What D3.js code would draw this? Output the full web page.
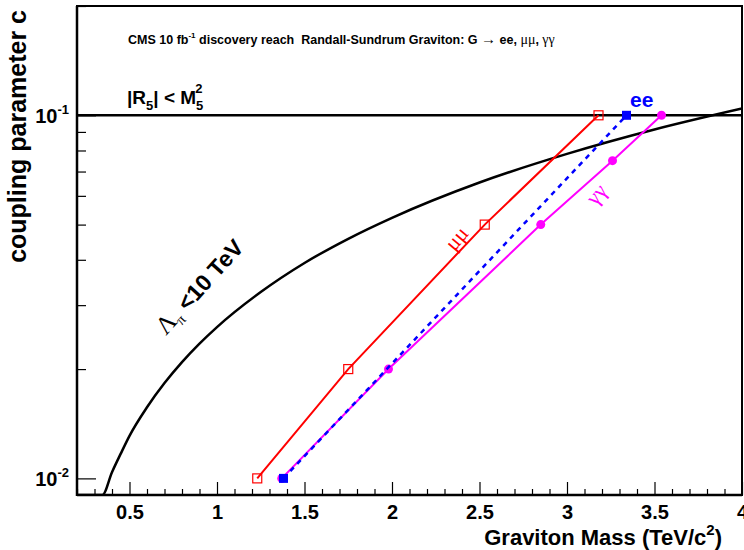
<!DOCTYPE html>
<html>
<head>
<meta charset="utf-8">
<script src="https://cdn.jsdelivr.net/npm/d3@7"></script>
<style>
  html, body { margin: 0; padding: 0; background: #fff; }
  text { font-family: "Liberation Sans", Arial, Helvetica, sans-serif; }
  .serif { font-family: "Liberation Serif", "Times New Roman", serif; }
</style>
</head>
<body>
<script>
// ---------- data ----------
const xMajorTicks = [0.5, 1, 1.5, 2, 2.5, 3, 3.5, 4];
const xMinorTicks = [0.2,0.3,0.4,0.6,0.7,0.8,0.9,1.1,1.2,1.3,1.4,1.6,1.7,1.8,1.9,2.1,2.2,2.3,2.4,2.6,2.7,2.8,2.9,3.1,3.2,3.3,3.4,3.6,3.7,3.8,3.9];
const xTickLabels = ["0.5", "1", "1.5", "2", "2.5", "3", "3.5", "4"];
const yMajorTicks = [0.01, 0.1];
const yMinorTicks = [0.02,0.03,0.04,0.05,0.06,0.07,0.08,0.09,0.2];
const yTickExponents = ["-2", "-1"];

// Lambda_pi < 10 TeV boundary
const lambdaMass = [0.2, 0.3, 0.345, 0.4, 0.45, 0.5, 0.6, 0.7, 0.8, 0.9, 1.0, 1.25, 1.5, 1.75, 2.0, 2.5, 3.0, 3.5, 4.0];
const lambdaC    = [0.0052, 0.0078, 0.009, 0.0104, 0.0117, 0.0131, 0.0157, 0.0183, 0.0209, 0.0235, 0.0261, 0.0326, 0.0392, 0.0457, 0.0522, 0.0653, 0.0783, 0.0914, 0.1044];

// |R5| < M5^2 bound
const r5Bound = 0.1;

// mu mu
const mumuMass = [1.23, 1.75, 2.53, 3.18];
const mumuC    = [0.01, 0.02, 0.05, 0.1];
// e e
const eeMass = [1.38, 3.34];
const eeC    = [0.01, 0.1];
// gamma gamma
const ggMass = [1.37, 1.98, 2.85, 3.26, 3.54];
const ggC    = [0.01, 0.02, 0.05, 0.075, 0.1];

// ---------- layout ----------
const W = 744, H = 550;
const L = 77, R = 742, T = 6, B = 495;

const svg = d3.select("body").append("svg").attr("width", W).attr("height", H);
svg.append("rect").attr("width", W).attr("height", H).attr("fill", "#fff");

const x = d3.scaleLinear().domain([0.2, 4.0]).range([L, R]);
const y = d3.scaleLog().domain([0.009, 0.2]).range([B, T]).clamp(true);

svg.append("clipPath").attr("id", "clip").append("rect")
  .attr("x", L).attr("y", T).attr("width", R - L).attr("height", B - T);

const plot = svg.append("g").attr("clip-path", "url(#clip)");

// axes: ticks drawn inside the frame via d3 axes
const xAxisMinor = d3.axisBottom(x).tickValues(xMinorTicks).tickSize(-6).tickFormat("");
const xAxisMajor = d3.axisBottom(x).tickValues(xMajorTicks).tickSize(-13).tickFormat((d, i) => xTickLabels[i]);
const gxm = svg.append("g").attr("transform", `translate(0,${B})`).call(xAxisMinor);
const gx = svg.append("g").attr("transform", `translate(0,${B})`).call(xAxisMajor);
[gxm, gx].forEach(g => { g.select(".domain").remove(); g.selectAll("line").attr("stroke", "#000").attr("stroke-width", 1.2); });
gx.selectAll("text").attr("fill", "#000").attr("font-size", 20).attr("font-weight", "bold").attr("dy", "0.71em").attr("y", 10);

const yAxisMinor = d3.axisLeft(y).tickValues(yMinorTicks).tickSize(-9).tickFormat("");
const yAxisMajor = d3.axisLeft(y).tickValues(yMajorTicks).tickSize(-19).tickFormat("");
const gym = svg.append("g").attr("transform", `translate(${L},0)`).call(yAxisMinor);
const gy = svg.append("g").attr("transform", `translate(${L},0)`).call(yAxisMajor);
[gym, gy].forEach(g => { g.select(".domain").remove(); g.selectAll("line").attr("stroke", "#000").attr("stroke-width", 1.2); });

// y tick labels 10^-2, 10^-1
yMajorTicks.forEach((v, i) => {
  const t = svg.append("text").attr("x", 69).attr("y", y(v) + 8)
    .attr("text-anchor", "end").attr("font-size", 20).attr("font-weight", "bold");
  t.append("tspan").text("10");
  t.append("tspan").attr("font-size", 13).attr("dy", -9).text(yTickExponents[i]);
});

// frame
svg.append("rect").attr("x", L).attr("y", T).attr("width", R - L).attr("height", B - T)
  .attr("fill", "none").attr("stroke", "#000").attr("stroke-width", 2);
svg.append("line").attr("x1", L).attr("x2", L).attr("y1", T).attr("y2", B + 1).attr("stroke", "#000").attr("stroke-width", 2.5);
svg.append("line").attr("x1", L).attr("x2", R).attr("y1", B).attr("y2", B).attr("stroke", "#000").attr("stroke-width", 2.5);

// |R5| < M5^2 horizontal line
plot.append("line").attr("x1", x(0.2)).attr("x2", x(4.0)).attr("y1", y(r5Bound)).attr("y2", y(r5Bound))
  .attr("stroke", "#000").attr("stroke-width", 2.5);

// Lambda curve
const lambdaPts = lambdaMass.map((m, i) => [m, lambdaC[i]]);
plot.append("path").datum(lambdaPts)
  .attr("d", d3.line().x(d => x(d[0])).y(d => y(d[1])).curve(d3.curveMonotoneX))
  .attr("fill", "none").attr("stroke", "#000").attr("stroke-width", 2.5);

const line = d3.line().x(d => x(d[0])).y(d => y(d[1]));

// gamma gamma
const ggPts = ggMass.map((m, i) => [m, ggC[i]]);
plot.append("path").datum(ggPts).attr("d", line).attr("fill", "none").attr("stroke", "#ff00ff").attr("stroke-width", 2);
plot.selectAll(".gg").data(ggPts).enter().append("circle")
  .attr("cx", d => x(d[0])).attr("cy", d => y(d[1])).attr("r", 4.5).attr("fill", "#ff00ff");

// mu mu
const mmPts = mumuMass.map((m, i) => [m, mumuC[i]]);
plot.append("path").datum(mmPts).attr("d", line).attr("fill", "none").attr("stroke", "#ff0000").attr("stroke-width", 2);
plot.selectAll(".mm").data(mmPts).enter().append("rect")
  .attr("x", d => x(d[0]) - 4.5).attr("y", d => y(d[1]) - 4.5).attr("width", 9).attr("height", 9)
  .attr("fill", "none").attr("stroke", "#ff0000").attr("stroke-width", 1.2);

// e e
const eePts = eeMass.map((m, i) => [m, eeC[i]]);
plot.append("path").datum(eePts).attr("d", line).attr("fill", "none").attr("stroke", "#0000ff")
  .attr("stroke-width", 2.5).attr("stroke-dasharray", "5,5");
plot.selectAll(".ee").data(eePts).enter().append("rect")
  .attr("x", d => x(d[0]) - 4.5).attr("y", d => y(d[1]) - 4.5).attr("width", 9).attr("height", 9)
  .attr("fill", "#0000ff");

// ---------- text ----------
// title
const title = svg.append("text").attr("x", 128).attr("y", 44).attr("font-size", 12.5).attr("font-weight", "bold")
  .attr("xml:space", "preserve");
title.append("tspan").text("CMS 10 fb");
title.append("tspan").attr("font-size", 8).attr("dy", -6).text("-1");
title.append("tspan").attr("dy", 6).text(" discovery reach\u00a0\u00a0Randall-Sundrum Graviton: G ");
title.append("tspan").attr("class", "serif").attr("font-weight", "normal").attr("font-size", 15).text("\u2192");
title.append("tspan").text(" ee, ");
title.append("tspan").attr("class", "serif").attr("font-weight", "normal").attr("font-size", 14).text("\u03bc\u03bc");
title.append("tspan").text(", ");
title.append("tspan").attr("class", "serif").attr("font-weight", "normal").attr("font-size", 14).text("\u03b3\u03b3");

// |R5| < M5^2
const r5 = svg.append("text").attr("x", 127).attr("y", 104).attr("font-size", 19).attr("font-weight", "bold");
r5.append("tspan").text("|R");
r5.append("tspan").attr("font-size", 13).attr("dy", 6).text("5");
r5.append("tspan").attr("dy", -6).text("| < M");
r5.append("tspan").attr("font-size", 13).attr("dy", 6).text("5");
r5.append("tspan").attr("font-size", 13).attr("dx", -8).attr("dy", -17).text("2");

// ee label
svg.append("text").attr("x", 630).attr("y", 107).attr("font-size", 21).attr("font-weight", "bold")
  .attr("fill", "#0000ff").text("ee");

// mu mu label
svg.append("text").attr("class", "serif").attr("transform", "translate(462,243) rotate(-50)")
  .attr("text-anchor", "middle").attr("font-size", 22).attr("fill", "#ff0000").text("\u03bc\u03bc");

// gamma gamma label
svg.append("text").attr("class", "serif").attr("transform", "translate(602,199) rotate(-50)")
  .attr("text-anchor", "middle").attr("font-size", 22).attr("fill", "#ff00ff").text("\u03b3\u03b3");

// Lambda label
const lam = svg.append("text").attr("transform", "translate(166,336) rotate(-48)").attr("font-size", 23);
lam.append("tspan").attr("class", "serif").attr("font-size", 25).text("\u039b");
lam.append("tspan").attr("class", "serif").attr("font-size", 15).attr("dy", 5).text("\u03c0");
lam.append("tspan").attr("dy", -5).attr("font-weight", "bold").text(" <10 TeV");

// axis titles
const xt = svg.append("text").attr("x", 722).attr("y", 545).attr("text-anchor", "end")
  .attr("font-size", 22).attr("font-weight", "bold");
xt.append("tspan").text("Graviton Mass (TeV/c");
xt.append("tspan").attr("font-size", 15).attr("dy", -10).text("2");
xt.append("tspan").attr("dy", 10).text(")");

svg.append("text").attr("transform", "translate(26,10) rotate(-90)").attr("text-anchor", "end")
  .attr("font-size", 25).attr("font-weight", "bold").text("coupling parameter c");
</script>
</body>
</html>
